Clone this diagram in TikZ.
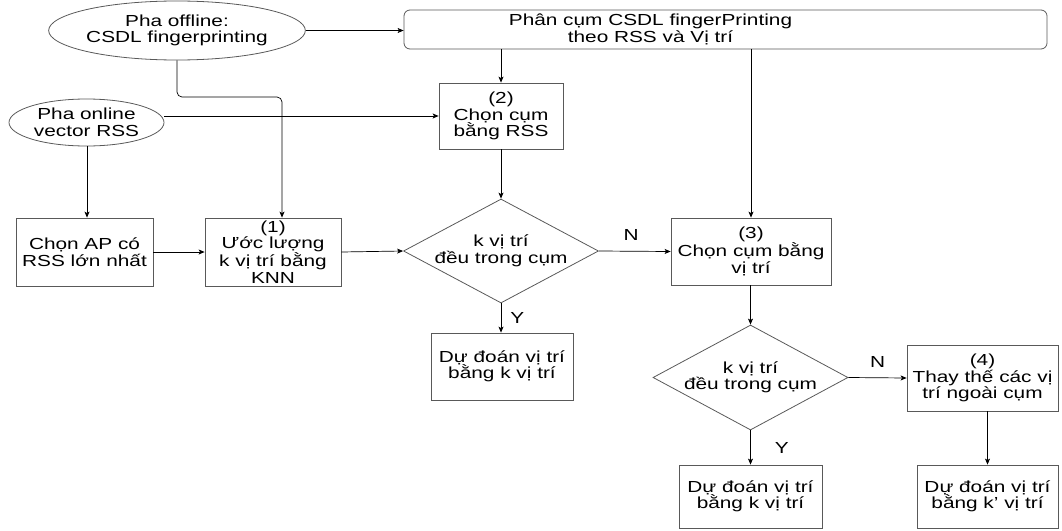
\documentclass[tikz,border=0pt]{standalone}
\usepackage{fontspec}
\setmainfont{Liberation Sans}[FakeStretch=1.3]
\usetikzlibrary{shapes.geometric,arrows.meta}
\begin{document}
\begin{tikzpicture}[x=1pt,y=-1pt,
  every node/.style={font=\fontsize{16}{16.5}\selectfont, align=center, inner sep=0pt},
  box/.style={draw=black!65, line width=0.8pt, rectangle},
  oval/.style={draw=black!65, line width=0.8pt, ellipse},
  dia/.style={draw=black!65, line width=0.8pt, diamond},
  conn/.style={draw=black, line width=0.7pt, -{Stealth[length=6pt,width=5pt,inset=1.5pt]}},
  lbl/.style={font=\fontsize{16}{16.5}\selectfont}]
\useasboundingbox (0,0) rectangle (1062,530);
\node[oval, minimum width=225pt, minimum height=59pt] (off) at (177,30.5) {Pha offline:\\CSDL fingerprinting};
\node[oval, minimum width=155pt, minimum height=47pt] (on) at (86.5,122.5) {Pha online\\vector RSS};
\node[box, rounded corners=6pt, minimum width=643pt, minimum height=39pt,
  label={[xshift=-75pt, align=center, font=\fontsize{16}{16.5}\selectfont]center:Phân cụm CSDL fingerPrinting\\theo RSS và Vị trí}] (top) at (725.5,29.5) {};
\node[box, minimum width=124pt, minimum height=66pt] (b2) at (501,116) {(2)\\Chọn cụm\\bằng RSS};
\node[box, minimum width=137pt, minimum height=68pt] (ap) at (84.5,252) {Chọn AP có\\RSS lớn nhất};
\node[box, minimum width=136pt, minimum height=68pt] (b1) at (273,252) {(1)\\Ước lượng\\k vị trí bằng\\KNN};
\node[dia, minimum width=195pt, minimum height=104pt, aspect=1.875] (d1) at (501,251) {k vị trí\\đều trong cụm};
\node[box, minimum width=160pt, minimum height=67pt] (b3) at (751,251.5) {(3)\\Chọn cụm bằng\\vị trí};
\node[box, minimum width=142pt, minimum height=67pt] (p1) at (502,366.5) {Dự đoán vị trí\\bằng k vị trí};
\node[dia, minimum width=195pt, minimum height=105pt, aspect=1.857] (d2) at (750.5,377.5) {k vị trí\\đều trong cụm};
\node[box, minimum width=151pt, minimum height=66pt] (b4) at (982.5,378) {(4)\\Thay thế các vị\\trí ngoài cụm};
\node[box, minimum width=143pt, minimum height=63pt] (p2) at (750.5,496.5) {Dự đoán vị trí\\bằng k vị trí};
\node[box, minimum width=141pt, minimum height=63pt] (p3) at (987.5,496.5) {Dự đoán vị trí\\bằng k' vị trí};
% connectors
\draw[conn] (off.east) -- (off.east -| top.west);
\draw[conn] (top.south -| b2.north) -- (b2.north);
\draw[conn] (b2.west -| on.east) -- (b2.west);
\coordinate (k1) at (off.south |- 0,97);
\coordinate (k2) at (282,97);
\draw[conn, rounded corners=5pt] (off.south) -- (k1) -- (k2) -- (k2 |- b1.north);
\draw[conn] (on.south -| 87,0) -- (ap.north -| 87,0);
\draw[conn] (ap.east) -- (b1.west);
\draw[conn] (b1.east) -- (d1.west);
\draw[conn] (b2.south) -- (d1.north);
\draw[conn] (d1.east) -- (b3.west) node[lbl, pos=0.45, above=10pt] {N};
\draw[conn] (top.south -| b3.north) -- (b3.north);
\draw[conn] (d1.south) -- (p1.north -| d1.south) node[lbl, midway, right=9pt] {Y};
\draw[conn] (b3.south -| d2.north) -- (d2.north);
\draw[conn] (d2.east) -- (b4.west) node[lbl, midway, above=10pt] {N};
\draw[conn] (d2.south) -- (p2.north -| d2.south) node[lbl, pos=0.5, right=24pt] {Y};
\draw[conn] (b4.south -| p3.north) -- (p3.north);
\end{tikzpicture}
\end{document}
